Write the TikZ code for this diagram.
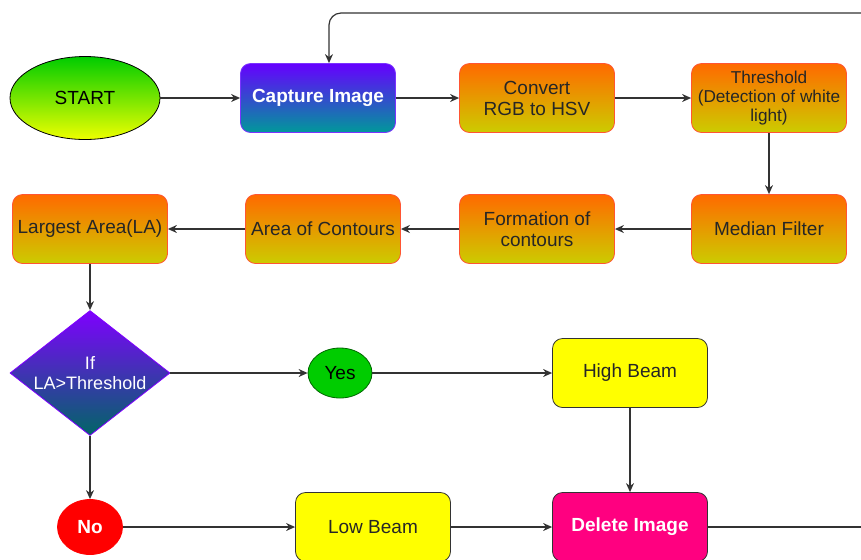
\documentclass[tikz,border=0pt]{standalone}
\usepackage{fontspec}
\setmainfont{Liberation Sans}
\usepackage{xcolor}
\usetikzlibrary{arrows.meta,shapes.geometric}

\definecolor{capTop}{HTML}{6600FF}
\definecolor{capBot}{HTML}{00999A}
\definecolor{capLine}{HTML}{7A33FF}
\definecolor{orTop}{HTML}{FF6A00}
\definecolor{orBot}{HTML}{CCCC00}
\definecolor{orLine}{HTML}{FF5533}
\definecolor{stTop}{HTML}{00CC00}
\definecolor{stBot}{HTML}{EEFF00}
\definecolor{dcTop}{HTML}{7F00FF}
\definecolor{dcBot}{HTML}{006666}
\definecolor{yesGreen}{HTML}{00CC00}
\definecolor{noRed}{HTML}{FF0000}
\definecolor{beamYellow}{HTML}{FFFF00}
\definecolor{delPink}{HTML}{FF0080}
\definecolor{wire}{HTML}{333333}

\tikzset{
  box/.style={rectangle,rounded corners=5pt,minimum width=77.5pt,minimum height=34.5pt,
    inner sep=1pt,align=center,font=\fontsize{9.5}{10.5}\selectfont},
  orbox/.style={box,draw=orLine,top color=orTop,bottom color=orBot,text=black!85},
  beambox/.style={box,draw=wire,fill=beamYellow,text=black!85},
  oval/.style={ellipse,inner sep=0pt,font=\fontsize{9.5}{10.5}\selectfont},
  flow/.style={draw=wire,line width=0.6pt,-{Stealth[length=4.5pt,width=4pt]}}
}

\begin{document}
\begin{tikzpicture}[x=0.5pt,y=-0.5pt]
\useasboundingbox (0,0) rectangle (861,559);
% first row
\node[oval,draw=black,top color=stTop,bottom color=stBot,minimum width=75pt,minimum height=41.5pt] (start) at (85,98) {START};
\node[box,draw=capLine,top color=capTop,bottom color=capBot,text=white,font=\fontsize{9.5}{10.5}\selectfont\bfseries] (capture) at (318,98) {Capture Image};
\node[orbox] (convert) at (537,98) {Convert\\RGB to HSV};
\node[orbox,font=\fontsize{8.6}{9.6}\selectfont] (thresh) at (769,98) {Threshold\\(Detection of white\\light)};
% second row
\node[orbox] (median) at (769,229) {Median Filter};
\node[orbox] (formation) at (537,229) {Formation of\\contours};
\node[orbox] (area) at (323,229) {Area of Contours};
\node[orbox] (largest) at (90,229) {Largest Area(LA)};
% decision
\node[diamond,aspect=1.28,inner sep=0pt,minimum width=80pt,minimum height=62.5pt,
  draw=dcTop,top color=dcTop,bottom color=dcBot,text=white,align=center,
  font=\fontsize{9}{10}\selectfont] (decision) at (90,373) {If\\LA>Threshold};
\node[oval,draw=green!40!black,fill=yesGreen,minimum width=32pt,minimum height=25pt] (yes) at (340,373) {Yes};
\node[beambox] (high) at (630,373) {High Beam};
\node[oval,draw=noRed,fill=noRed,text=white,font=\fontsize{9.5}{10.5}\selectfont\bfseries,minimum width=32.5pt,minimum height=27.5pt] (no) at (90,527) {No};
\node[beambox] (low) at (373,527) {Low Beam};
\node[box,draw=wire,fill=delPink,text=white,font=\fontsize{9.5}{10.5}\selectfont\bfseries] (delete) at (630,527) {Delete Image};
% loop ends at the picture edge
\coordinate (delR) at (861,527);
\coordinate (loopR) at (861,13);

\draw[flow] (start) -- (capture);
\draw[flow] (capture) -- (convert);
\draw[flow] (convert) -- (thresh);
\draw[flow] (thresh) -- (median);
\draw[flow] (median) -- (formation);
\draw[flow] (formation) -- (area);
\draw[flow] (area) -- (largest);
\draw[flow] (largest) -- (decision);
\draw[flow] (decision) -- (yes);
\draw[flow] (yes) -- (high);
\draw[flow] (decision) -- (no);
\draw[flow] (no) -- (low);
\draw[flow] (low) -- (delete);
\draw[flow] (high) -- (delete);
\draw[draw=wire,line width=0.6pt] (delete) -- (delR);
\draw[flow,rounded corners=6pt] (loopR) -- (329,13) -- (capture.north -| 329,0);
\end{tikzpicture}
\end{document}
